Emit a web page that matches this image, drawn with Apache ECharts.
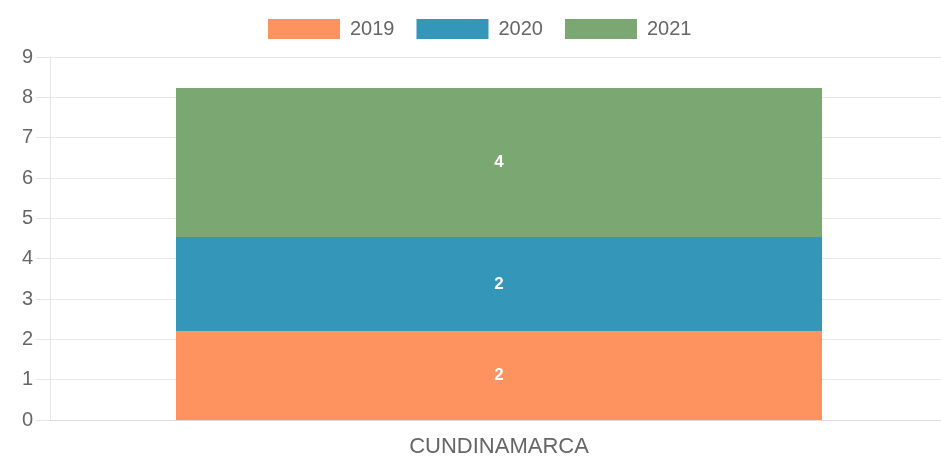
<!DOCTYPE html>
<html>
<head>
<meta charset="utf-8">
<script src="https://cdn.jsdelivr.net/npm/echarts@6/dist/echarts.min.js"></script>
<style>
  html, body { margin: 0; padding: 0; background: #fff; }
  #chart { width: 941px; height: 458px; }
</style>
</head>
<body>
<div id="chart"></div>
<script>
// datos
var categorias = ['CUNDINAMARCA'];
var series2019 = [2.2];
var series2020 = [2.34];
var series2021 = [3.69];
var anios = ['2019', '2020', '2021'];
var colores = ['#FF935F', '#3497BA', '#7BA773'];

var chart = echarts.init(document.getElementById('chart'));

function serie(nombre, datos, color) {
  return {
    name: nombre,
    type: 'bar',
    stack: 'total',
    barWidth: 646,
    itemStyle: { color: color },
    label: {
      show: true,
      color: '#fff',
      fontWeight: 'bold',
      fontSize: 17,
      fontFamily: 'Arial, Liberation Sans',
      formatter: function (p) { return Math.round(p.value); }
    },
    data: datos
  };
}

chart.setOption({
  animation: false,
  textStyle: { fontFamily: 'Arial, Liberation Sans' },
  legend: {
    top: 14,
    left: 263,
    itemWidth: 72,
    itemHeight: 20,
    itemGap: 22,
    icon: 'rect',
    textStyle: { color: '#666', fontSize: 20, padding: [0, 0, 0, 5] },
    data: anios
  },
  grid: { left: 50, right: -7, top: 57, bottom: 38, outerBoundsMode: 'none', containLabel: false },
  xAxis: {
    type: 'category',
    data: categorias,
    axisLine: { lineStyle: { color: '#ddd' } },
    axisTick: { show: false },
    axisLabel: { color: '#666', fontSize: 22, margin: 16 }
  },
  yAxis: {
    type: 'value',
    min: 0,
    max: 9,
    interval: 1,
    axisLine: { show: true, lineStyle: { color: '#e5e5e5' } },
    axisTick: { show: true, length: 14, lineStyle: { color: '#e5e5e5' } },
    splitLine: { lineStyle: { color: '#e8e8e8' } },
    axisLabel: { color: '#666', fontSize: 20, margin: 17 }
  },
  series: [
    serie(anios[0], series2019, colores[0]),
    serie(anios[1], series2020, colores[1]),
    serie(anios[2], series2021, colores[2])
  ]
});
</script>
</body>
</html>
